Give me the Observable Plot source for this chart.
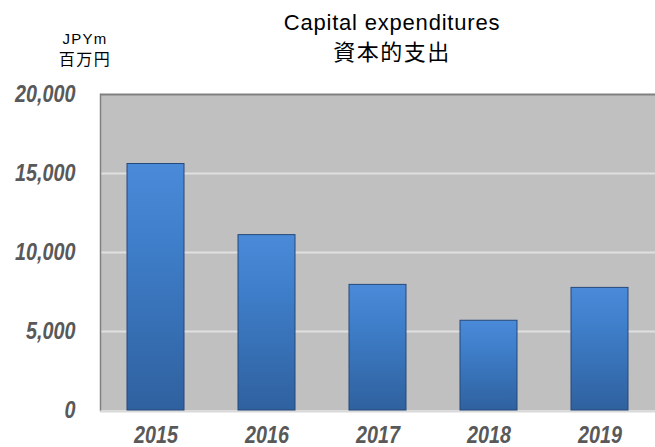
<!DOCTYPE html>
<html>
<head>
<meta charset="utf-8">
<script src="https://cdn.jsdelivr.net/npm/d3@7"></script>
<script src="https://cdn.jsdelivr.net/npm/@observablehq/plot@0.6"></script>
<style>
  html, body { margin: 0; padding: 0; background: #fff; }
  #wrap { position: relative; width: 655px; height: 447px; font-family: "Liberation Sans", Arial, "Noto Sans CJK JP", sans-serif; }
  .t { position: absolute; text-align: center; color: #000; line-height: 1; white-space: nowrap; }
</style>
</head>
<body>
<div id="wrap">
  <div id="chart" style="position:absolute; left:0; top:0;"></div>
  <div class="t" style="left:242px; top:12px; width:300px; font-size:22px; letter-spacing:0.8px;">Capital expenditures</div>
  <div class="t" style="left:242px; top:39px; width:300px; font-size:22px; letter-spacing:1.5px; font-family:'Noto Sans CJK JP', sans-serif;">資本的支出</div>
  <div class="t" style="left:35px; top:31px; width:100px; font-size:15px; line-height:15px; letter-spacing:1.2px;">JPYm</div>
  <div class="t" style="left:35px; top:50px; width:100px; font-size:16px; line-height:16px; letter-spacing:1.5px; font-family:'Noto Sans CJK JP', sans-serif;">百万円</div>
</div>
<script>
const years = ["2015", "2016", "2017", "2018", "2019"];
const capex = [15600, 11100, 7950, 5680, 7760];
const yTicks = [0, 5000, 10000, 15000, 20000];

const data = years.map((y, i) => ({year: y, value: capex[i]}));
const tickFont = "'Liberation Sans Narrow', 'Liberation Sans', Arial, sans-serif";

const chart = Plot.plot({
  width: 655,
  height: 447,
  marginTop: 94,
  marginBottom: 37,
  marginLeft: 100,
  marginRight: 0,
  style: {fontFamily: "'Liberation Sans', Arial, sans-serif", background: "transparent"},
  x: {domain: years, paddingInner: 0.49, paddingOuter: 0.245, label: null},
  y: {domain: [0, 20000], label: null},
  marks: [
    Plot.frame({fill: "#c0c0c0", stroke: null}),
    Plot.gridY(yTicks.filter(d => d > 0 && d < 20000), {stroke: "#e0e0e0", strokeOpacity: 1, strokeWidth: 2}),
    Plot.ruleY([20000], {stroke: "#808080", strokeWidth: 2}),
    Plot.frame({anchor: "left", stroke: "#808080", strokeWidth: 1.5}),
    Plot.ruleY([0], {stroke: "#d9d9d9", strokeWidth: 2, dy: 1}),
    Plot.barY(data, {x: "year", y: "value", fill: "url(#barGrad)", stroke: "#24497a", strokeWidth: 1}),
    Plot.barY(data, {x: "year", y1: d => d.value, y2: d => d.value, fill: "none", stroke: "#7fb3ee", strokeWidth: 3, dy: 3, insetLeft: 5, insetRight: 5}),
    Plot.axisY(yTicks, {tickSize: 0, tickPadding: 25, tickFormat: d3.format(","), fontSize: 23, fontWeight: "bold", fontStyle: "italic", fill: "#595959", fontFamily: tickFont}),
    Plot.axisX({tickSize: 0, tickPadding: 16, fontSize: 23, fontWeight: "bold", fontStyle: "italic", fill: "#595959", fontFamily: tickFont})
  ]
});

const svg = d3.select(chart);
const defs = svg.insert("defs", ":first-child");
const g = defs.append("linearGradient").attr("id", "barGrad").attr("x1", 0).attr("y1", 0).attr("x2", 0).attr("y2", 1);
g.append("stop").attr("offset", "0%").attr("stop-color", "#4a8ad8");
g.append("stop").attr("offset", "30%").attr("stop-color", "#3f7fcb");
g.append("stop").attr("offset", "100%").attr("stop-color", "#2f619f");

document.getElementById("chart").appendChild(chart);

// Horizontally condense the tick labels if the narrow face is not available
const texts = chart.querySelectorAll("text");
let ref = null;
texts.forEach(t => { if (t.textContent === "2019") ref = t; });
if (ref) {
  const w = ref.getBBox().width;
  const s = 45 / w;
  if (s < 0.95) {
    texts.forEach(t => {
      const tr = t.getAttribute("transform");
      if (tr) t.setAttribute("transform", tr + ` scale(${s},1)`);
    });
  }
}
</script>
</body>
</html>
